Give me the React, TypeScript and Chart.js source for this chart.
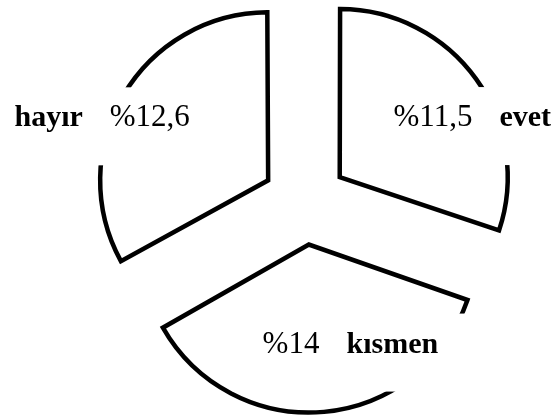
import React, { useEffect, useRef } from 'react';
import { Chart, registerables } from 'chart.js';

Chart.register(...registerables);

const CATEGORIES = ['evet', 'kısmen', 'hayır'];
const VALUES = [11.5, 14, 12.6];
const VALUE_TEXT = VALUES.map((v) => '%' + String(v).replace('.', ','));
const NAME_FIRST = [false, false, true];

const SLICE_OFFSET = 171; // Chart.js translates arcs by offset / 4
const RADIUS = 168;

const fixRadiusPlugin = {
  id: 'fixRadius',
  afterDatasetUpdate(chart: any, args: any) {
    const off = SLICE_OFFSET / 4;
    args.meta.data.forEach((arc: any) => {
      const fix = 1 - Math.sin(Math.min(Math.PI, arc.circumference || 0));
      arc.outerRadius = arc.outerRadius - off * fix;
    });
  },
};

const labelsPlugin = {
  id: 'sliceLabels',
  afterDatasetsDraw(chart: any, _args: any, opts: any) {
    const ctx = chart.ctx;
    const meta = chart.getDatasetMeta(0);
    const off = SLICE_OFFSET / 4;
    const family = '"Liberation Serif", "Times New Roman", serif';
    meta.data.forEach((arc: any, i: number) => {
      const mid = (arc.startAngle + arc.endAngle) / 2;
      const vx = arc.x + Math.cos(mid) * off;
      const vy = arc.y + Math.sin(mid) * off;
      const [dx, dy] = opts.anchors[i];
      const cx = vx + dx;
      const by = vy + dy;
      const valueFont = `normal ${opts.valueSize}px ${family}`;
      const nameFont = `bold ${opts.nameSize}px ${family}`;
      const parts: [string, string][] = NAME_FIRST[i]
        ? [[CATEGORIES[i], nameFont], [VALUE_TEXT[i], valueFont]]
        : [[VALUE_TEXT[i], valueFont], [CATEGORIES[i], nameFont]];
      ctx.save();
      const widths = parts.map(([t, f]) => {
        ctx.font = f;
        return ctx.measureText(t).width;
      });
      const total = widths[0] + opts.gap + widths[1];
      const left = cx - total / 2;
      ctx.fillStyle = '#ffffff';
      ctx.fillRect(left - opts.padX, by - opts.halfH, total + opts.padX * 2, opts.halfH * 2);
      ctx.fillStyle = '#000000';
      ctx.textAlign = 'left';
      ctx.textBaseline = 'alphabetic';
      let x = left;
      parts.forEach(([t, f], k) => {
        ctx.font = f;
        ctx.fillText(t, x, by);
        x += widths[k] + opts.gap;
      });
      ctx.restore();
    });
  },
};

export default function App() {
  const ref = useRef<HTMLCanvasElement | null>(null);
  useEffect(() => {
    if (!ref.current) return;
    const chart = new Chart(ref.current, {
      type: 'pie',
      data: {
        labels: CATEGORIES,
        datasets: [
          {
            data: VALUES,
            backgroundColor: '#ffffff',
            borderColor: '#000000',
            borderWidth: 4.5,
            borderJoinStyle: 'miter',
            offset: SLICE_OFFSET,
            radius: RADIUS,
          } as any,
        ],
      },
      options: {
        responsive: false,
        animation: false,
        radius: RADIUS,
        layout: { padding: { left: 54, right: 0, top: 0, bottom: 12 } },
        plugins: {
          legend: { display: false },
          tooltip: { enabled: false },
          sliceLabels: {
            anchors: [
              [132.5, -51],
              [41.5, 108],
              [-166, -54],
            ],
            valueSize: 31,
            nameSize: 30,
            gap: 27,
            padX: 30,
            halfH: 39,
          },
        } as any,
      } as any,
      plugins: [fixRadiusPlugin, labelsPlugin],
    });
    return () => chart.destroy();
  }, []);
  return (
    <div style={{ position: 'fixed', left: 0, top: 0, width: 556, height: 416 }}>
      <canvas ref={ref} width={556} height={416} style={{ display: 'block' }} />
    </div>
  );
}
